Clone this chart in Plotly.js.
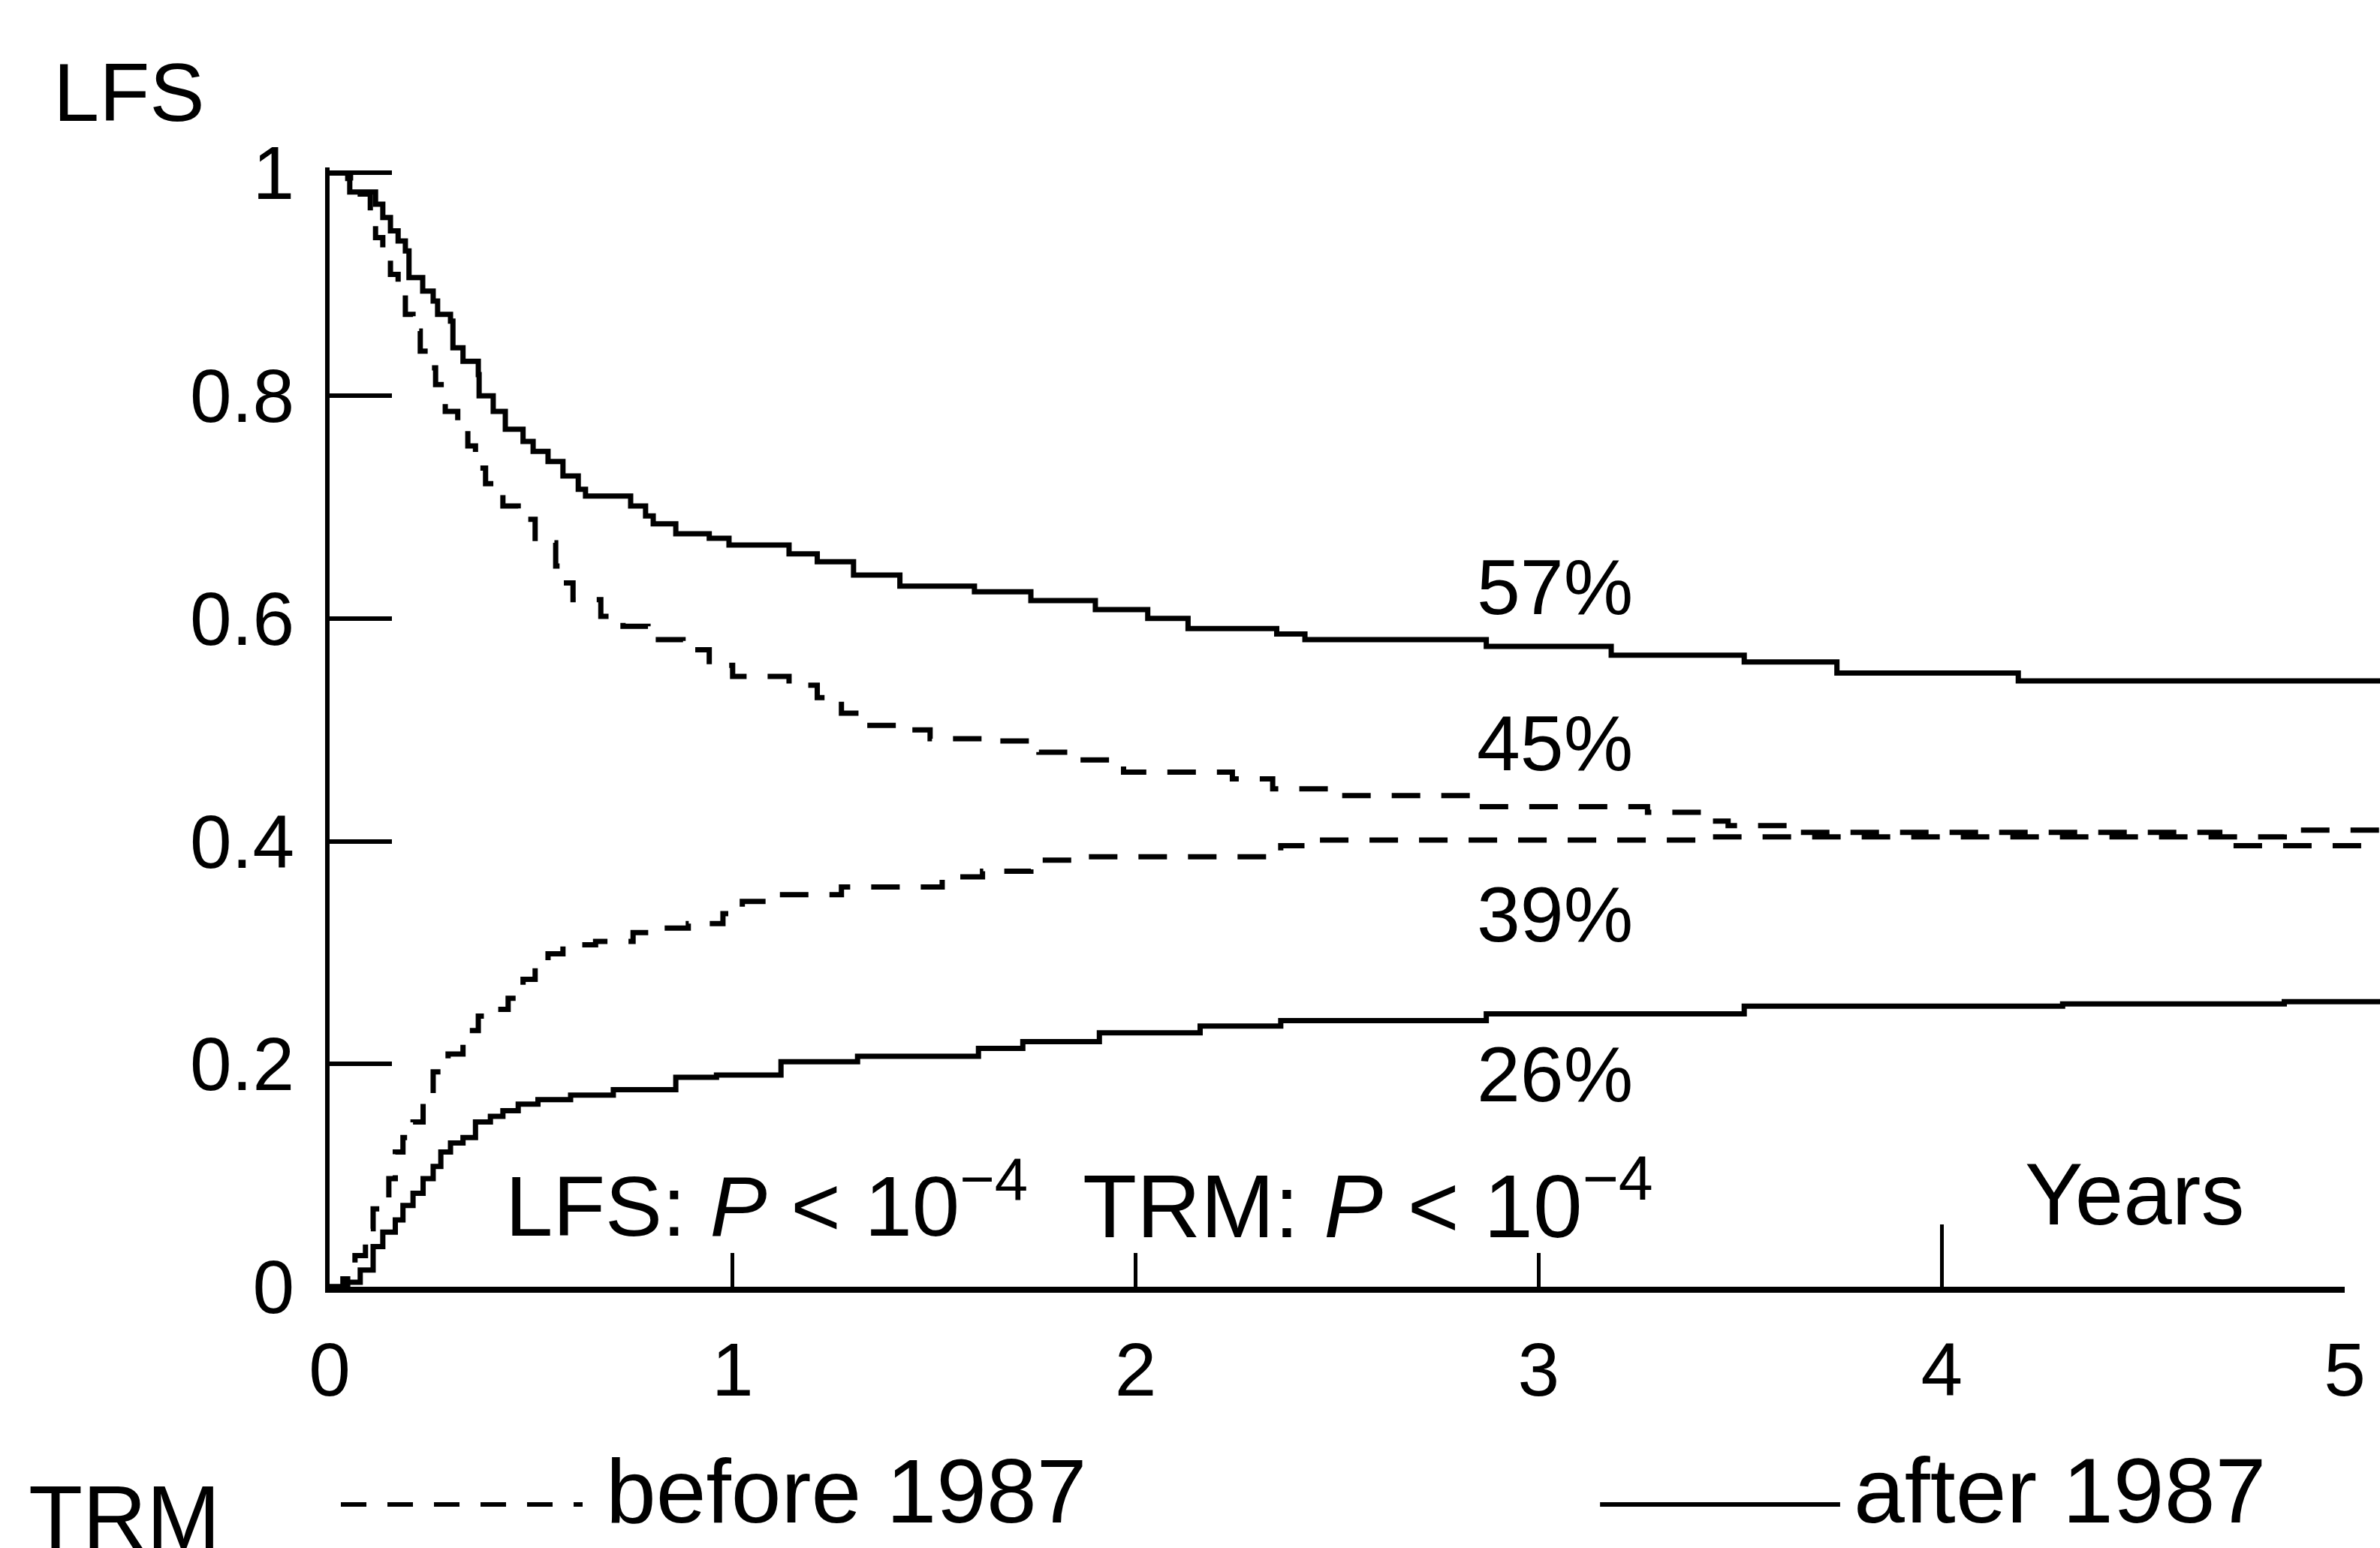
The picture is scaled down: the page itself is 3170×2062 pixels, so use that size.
<!DOCTYPE html>
<html><head><meta charset="utf-8">
<script src="https://cdn.plot.ly/plotly-3.0.1.min.js"></script>
<style>html,body{margin:0;padding:0;background:#fff;overflow:hidden;} #chart{width:3170px;height:2062px;}</style>
</head><body><div id="chart"></div>
<script>
// Years since transplant and Kaplan-Meier estimates (step points)
const lfsAfterT = [0, 0.045, 0.05, 0.114, 0.132, 0.151, 0.170, 0.188, 0.197, 0.231, 0.257, 0.268, 0.300, 0.306, 0.331, 0.369, 0.371, 0.406, 0.436, 0.480, 0.505, 0.542, 0.579, 0.617, 0.635, 0.747, 0.784, 0.803, 0.859, 0.942, 0.991, 1.14, 1.21, 1.30, 1.415, 1.60, 1.74, 1.90, 2.03, 2.13, 2.35, 2.42, 2.87, 3.18, 3.51, 3.74, 4.19, 5.09];
const lfsAfterS = [1, 0.995, 0.983, 0.972, 0.960, 0.948, 0.939, 0.930, 0.906, 0.894, 0.885, 0.873, 0.867, 0.843, 0.831, 0.819, 0.800, 0.786, 0.770, 0.759, 0.750, 0.741, 0.728, 0.716, 0.710, 0.701, 0.692, 0.685, 0.676, 0.672, 0.666, 0.658, 0.651, 0.639, 0.629, 0.624, 0.616, 0.608, 0.600, 0.591, 0.586, 0.581, 0.575, 0.567, 0.561, 0.551, 0.544, 0.544];

const lfsBeforeT = [0, 0.052, 0.076, 0.101, 0.114, 0.132, 0.151, 0.170, 0.188, 0.207, 0.225, 0.244, 0.263, 0.287, 0.318, 0.343, 0.362, 0.387, 0.430, 0.468, 0.510, 0.561, 0.579, 0.604, 0.673, 0.728, 0.790, 0.877, 0.942, 1.00, 1.14, 1.21, 1.27, 1.33, 1.42, 1.49, 1.65, 1.76, 1.86, 1.97, 2.24, 2.34, 2.51, 2.85, 3.27, 3.41, 3.47, 3.65, 4.69, 5.09];
const lfsBeforeS = [1, 0.993, 0.981, 0.960, 0.942, 0.930, 0.909, 0.894, 0.873, 0.858, 0.840, 0.825, 0.810, 0.786, 0.770, 0.755, 0.735, 0.721, 0.701, 0.689, 0.668, 0.647, 0.632, 0.617, 0.602, 0.593, 0.581, 0.572, 0.558, 0.548, 0.540, 0.529, 0.515, 0.504, 0.500, 0.492, 0.490, 0.480, 0.473, 0.462, 0.456, 0.447, 0.441, 0.431, 0.426, 0.418, 0.414, 0.408, 0.396, 0.396];

const trmBeforeT = [0, 0.033, 0.063, 0.089, 0.108, 0.126, 0.147, 0.163, 0.182, 0.207, 0.232, 0.257, 0.294, 0.331, 0.369, 0.412, 0.443, 0.480, 0.510, 0.542, 0.579, 0.66, 0.753, 0.784, 0.89, 0.976, 1.024, 1.10, 1.27, 1.52, 1.62, 1.74, 1.87, 2.36, 2.45, 3.41, 4.85, 5.09];
const trmBeforeS = [0, 0.007, 0.028, 0.052, 0.070, 0.078, 0.097, 0.121, 0.134, 0.148, 0.169, 0.193, 0.209, 0.230, 0.243, 0.249, 0.259, 0.276, 0.288, 0.299, 0.307, 0.310, 0.318, 0.322, 0.326, 0.335, 0.346, 0.352, 0.359, 0.368, 0.373, 0.383, 0.386, 0.396, 0.401, 0.404, 0.410, 0.410];

const trmAfterT = [0, 0.045, 0.076, 0.108, 0.132, 0.163, 0.182, 0.207, 0.232, 0.257, 0.276, 0.300, 0.331, 0.362, 0.399, 0.430, 0.468, 0.517, 0.598, 0.704, 0.859, 0.96, 1.12, 1.31, 1.61, 1.72, 1.91, 2.16, 2.36, 2.87, 3.51, 4.3, 4.85, 5.09];
const trmAfterS = [0, 0.004, 0.015, 0.036, 0.049, 0.060, 0.073, 0.084, 0.097, 0.108, 0.121, 0.129, 0.134, 0.148, 0.153, 0.158, 0.164, 0.168, 0.172, 0.177, 0.188, 0.190, 0.202, 0.207, 0.214, 0.220, 0.228, 0.234, 0.239, 0.245, 0.252, 0.254, 0.256, 0.256];

const xTicks = [0, 1, 2, 3, 4, 5];
const xLongTicks = [4, 5];
const yTicks = [0, 0.2, 0.4, 0.6, 0.8, 1];
const yTickText = ['0', '0.2', '0.4', '0.6', '0.8', '1'];
const pctLabels = ['57%', '45%', '39%', '26%'];
const pctY = [0.628, 0.488, 0.334, 0.191];
const pctX = 3.04;

const FONT = 'Liberation Sans, Arial, Helvetica, sans-serif';
const dashPat = '38px,28px';
const LW = 7;

function stepTrace(x, y, dashed) {
  return {x: x, y: y, type: 'scatter', mode: 'lines', xaxis: 'x', yaxis: 'y',
    line: {shape: 'hv', color: '#000', width: LW, dash: dashed ? dashPat : 'solid'},
    hoverinfo: 'skip', showlegend: false};
}
// invisible helper traces so that the displayed 0-5 year axes get drawn
function axisHelper(ax) {
  return {x: trmAfterT, y: trmAfterS, type: 'scatter', mode: 'lines', xaxis: ax, yaxis: 'y',
    line: {width: 0, color: 'rgba(0,0,0,0)'}, opacity: 0, hoverinfo: 'skip', showlegend: false};
}

const data = [
  axisHelper('x2'), axisHelper('x3'),
  stepTrace(lfsAfterT, lfsAfterS, false),
  stepTrace(lfsBeforeT, lfsBeforeS, true),
  stepTrace(trmBeforeT, trmBeforeS, true),
  stepTrace(trmAfterT, trmAfterS, false)
];

const annotations = [];
pctLabels.forEach((t, i) => annotations.push({text: t, x: pctX, y: pctY[i], xref: 'x', yref: 'y',
  showarrow: false, xanchor: 'center', yanchor: 'middle', font: {family: FONT, size: 104, color: '#000'}}));
annotations.push({text: 'LFS: <i>P</i> &lt; 10<sup>−4</sup>', x: 1.085, y: 0.078, xref: 'x', yref: 'y',
  showarrow: false, xanchor: 'center', yanchor: 'middle', font: {family: FONT, size: 114, color: '#000'}});
annotations.push({text: 'TRM: <i>P</i> &lt; 10<sup>−4</sup>', x: 2.576, y: 0.078, xref: 'x', yref: 'y',
  showarrow: false, xanchor: 'center', yanchor: 'middle', font: {family: FONT, size: 118, color: '#000'}});
annotations.push({text: 'Years', x: 4.478, y: 0.083, xref: 'x', yref: 'y',
  showarrow: false, xanchor: 'center', yanchor: 'middle', font: {family: FONT, size: 116, color: '#000'}});
annotations.push({text: 'LFS', x: -0.1355, y: 1.0675, xref: 'paper', yref: 'paper',
  showarrow: false, xanchor: 'left', yanchor: 'middle', font: {family: FONT, size: 110, color: '#000'}});
annotations.push({text: 'TRM', x: -0.1476, y: -0.2059, xref: 'paper', yref: 'paper',
  showarrow: false, xanchor: 'left', yanchor: 'middle', font: {family: FONT, size: 118, color: '#000'}});
annotations.push({text: 'before 1987', x: 0.1340, y: -0.1825, xref: 'paper', yref: 'paper',
  showarrow: false, xanchor: 'left', yanchor: 'middle', font: {family: FONT, size: 120, color: '#000'}});
annotations.push({text: 'after 1987', x: 0.7425, y: -0.1825, xref: 'paper', yref: 'paper',
  showarrow: false, xanchor: 'left', yanchor: 'middle', font: {family: FONT, size: 122, color: '#000'}});

const shapes = [
  {type: 'line', xref: 'paper', yref: 'paper', x0: 0.0055, x1: 0.1234, y0: -0.1945, y1: -0.1945,
   line: {color: '#000', width: 6, dash: '34px,28px'}},
  {type: 'line', xref: 'paper', yref: 'paper', x0: 0.6196, x1: 0.7367, y0: -0.1945, y1: -0.1945,
   line: {color: '#000', width: 6}}
];

const layout = {
  width: 3170, height: 2062,
  margin: {l: 439, r: 0, t: 223, b: 348, pad: 0},
  paper_bgcolor: '#fff', plot_bgcolor: 'rgba(0,0,0,0)',
  showlegend: false,
  font: {family: FONT, color: '#000'},
  xaxis: {range: [0, 5.0875], domain: [0, 1], showline: false, showticklabels: false, ticks: '',
    showgrid: false, zeroline: false, fixedrange: true, automargin: false},
  xaxis2: {range: [0, 5], domain: [0, 0.98279], anchor: 'y', tickmode: 'array', tickvals: xTicks,
    ticktext: xTicks.map(String), ticks: 'inside', ticklen: 45, tickwidth: 5, tickcolor: '#000',
    showline: true, linewidth: 8, linecolor: '#000', showgrid: false, zeroline: false, automargin: false,
    tickfont: {family: FONT, size: 100, color: '#000'}, ticklabelstandoff: 17},
  xaxis3: {range: [0, 5], domain: [0, 0.98279], anchor: 'y', tickmode: 'array', tickvals: xLongTicks,
    ticks: 'inside', ticklen: 83, tickwidth: 5, tickcolor: '#000', showticklabels: false,
    showline: false, showgrid: false, zeroline: false, automargin: false},
  yaxis: {range: [0, 1.005], anchor: 'x', tickmode: 'array', tickvals: yTicks, ticktext: yTickText,
    ticks: 'inside', ticklen: 83, tickwidth: 6, tickcolor: '#000', showline: true, linewidth: 6,
    linecolor: '#000', showgrid: false, zeroline: false, automargin: false,
    tickfont: {family: FONT, size: 100, color: '#000'}, ticklabelstandoff: 21},
  annotations: annotations,
  shapes: shapes
};

Plotly.newPlot('chart', data, layout, {staticPlot: true, displayModeBar: false});
</script>
</body></html>
